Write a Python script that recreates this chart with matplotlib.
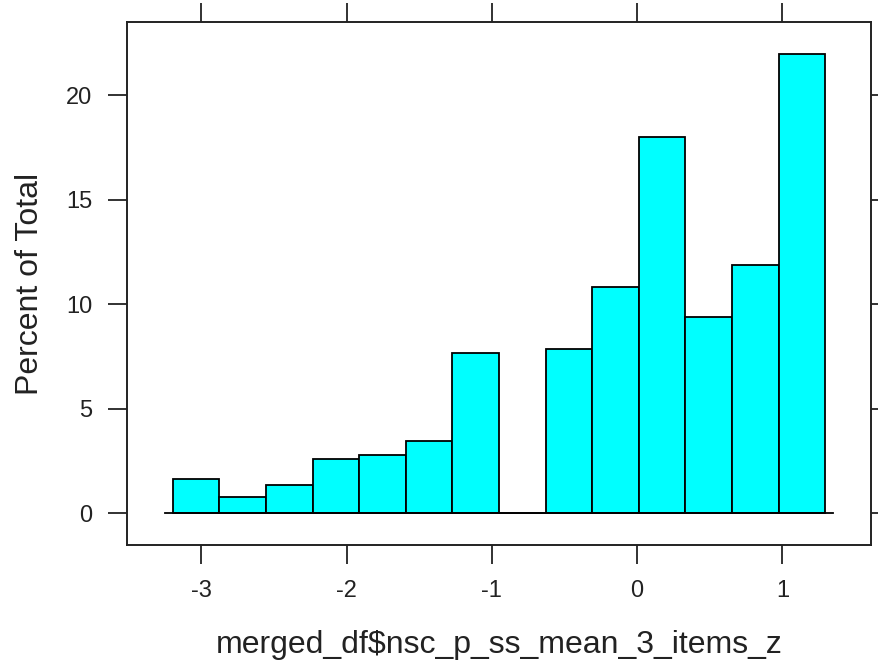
import numpy as np
import matplotlib.pyplot as plt

plt.rcParams['font.family'] = ['Liberation Sans', 'DejaVu Sans']
plt.rcParams['axes.unicode_minus'] = False

# histogram bins (lattice style: 14 equal bins) and percent of total
bin_lo = -3.197
bin_hi = 1.296
n_bins = 14
percent = [1.64, 0.76, 1.34, 2.58, 2.77, 3.45, 7.65, 0.0,
           7.85, 10.82, 17.98, 9.38, 11.87, 21.96]
x_ticks = [-3, -2, -1, 0, 1]
y_ticks = [0, 5, 10, 15, 20]

edges = np.linspace(bin_lo, bin_hi, n_bins + 1)
widths = np.diff(edges)

fig = plt.figure(figsize=(8.79, 6.62), dpi=100)
ax = fig.add_axes([0.1445, 0.1763, 0.8464, 0.7905])

ax.bar(edges[:-1], percent, width=widths, align='edge',
       color='#00FFFF', edgecolor='black', linewidth=1.3, zorder=2)
# baseline like lattice's panel.histogram
pad = 0.055
ax.plot([edges[0] - pad, edges[-1] + pad], [0, 0], color='black', lw=1.3, zorder=3)

# 7% padding on both axes, like lattice
xr = edges[-1] - edges[0]
ax.set_xlim(edges[0] - 0.07 * xr, edges[-1] + 0.07 * xr)
yr = max(percent)
ax.set_ylim(-0.07 * yr, yr * 1.07)

ax.set_xticks(x_ticks)
ax.set_yticks(y_ticks)
ax.tick_params(axis='both', direction='out', length=14, width=1.3,
               color='#222222', labelsize=17, pad=11, labelcolor='#222222')
ax.tick_params(top=True, right=True, labeltop=False, labelright=False)
for s in ax.spines.values():
    s.set_linewidth(1.4)
    s.set_color('#222222')

ax.set_xlabel('merged_df$nsc_p_ss_mean_3_items_z', fontsize=23, labelpad=20, color='#222222')
ax.set_ylabel('Percent of Total', fontsize=23, labelpad=15, color='#222222')

fig.savefig('out.png', dpi=100)
